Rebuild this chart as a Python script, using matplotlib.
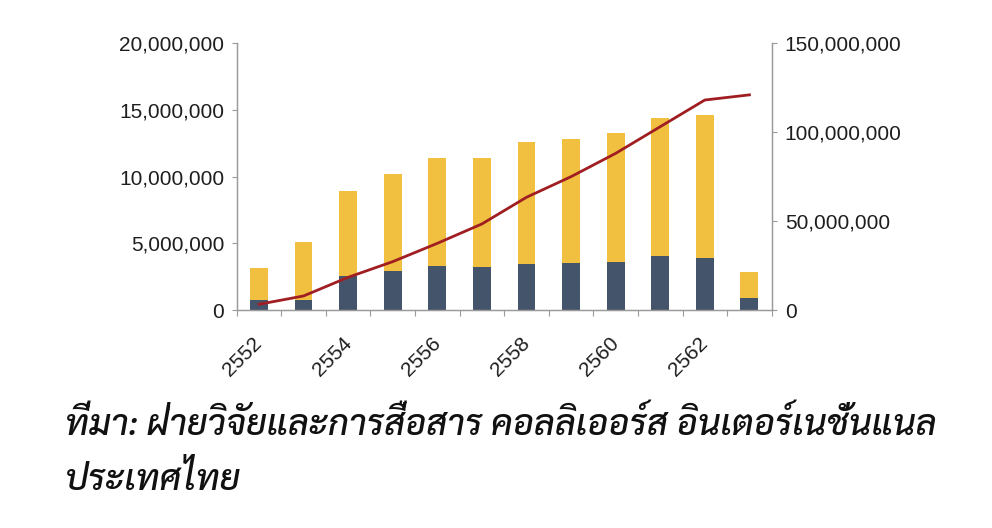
import matplotlib
matplotlib.use("Agg")
import numpy as np
from matplotlib import pyplot as plt
from matplotlib.ticker import FuncFormatter, FixedLocator, NullFormatter

years = ["2552", "2553", "2554", "2555", "2556", "2557", "2558", "2559", "2560", "2561", "2562", "2563"]
# ยอดรวมต่อปี (แกนซ้าย) แยกเป็นส่วนล่าง (สีเข้ม) + ส่วนบน (สีเหลือง)
total = [3130000, 5100000, 8930000, 10230000, 11370000, 11370000, 12600000, 12800000, 13270000, 14400000, 14600000, 2850000]
dark = [750000, 750000, 2550000, 2950000, 3330000, 3200000, 3420000, 3520000, 3600000, 4080000, 3870000, 930000]
# ยอดสะสม (แกนขวา)
cumulative = [3200000, 7900000, 18400000, 27200000, 37500000, 48400000, 63400000, 75000000, 88100000, 103100000, 118100000, 121000000]
caption1 = "ที่มา: ฝ่ายวิจัยและการสื่อสาร คอลลิเออร์ส อินเตอร์เนชั่นแนล"
caption2 = "ประเทศไทย"

yellow = [t - d for t, d in zip(total, dark)]
x = np.arange(len(years))

plt.rcParams['font.family'] = ['Liberation Sans', 'DejaVu Sans']
spine_c = "#9a9a9a"
text_c = "#1e1e1e"

fig = plt.figure(figsize=(9.92, 5.28), dpi=100)
ax = fig.add_axes([236.7 / 992, 1 - 310 / 528, (771.7 - 236.7) / 992, (310 - 43.3) / 528])
ax2 = ax.twinx()

ax.bar(x, dark, width=0.4, color="#44546a", zorder=2)
ax.bar(x, yellow, width=0.4, bottom=dark, color="#f2c040", zorder=2)
ax2.plot(x, cumulative, color="#a01e22", lw=2.0, zorder=3)

ax.set_xlim(-0.5, len(years) - 0.5)
ax.set_ylim(0, 20000000)
ax2.set_ylim(0, 150000000)
ax.set_yticks([0, 5000000, 10000000, 15000000, 20000000])
ax2.set_yticks([0, 50000000, 100000000, 150000000])
fmt = FuncFormatter(lambda v, p: "{:,.0f}".format(v))
ax.yaxis.set_major_formatter(fmt)
ax2.yaxis.set_major_formatter(fmt)

# x: ticks between categories, labels every 2 years
ax.xaxis.set_major_locator(FixedLocator(x[::2]))
ax.set_xticklabels(years[::2])
ax.xaxis.set_minor_locator(FixedLocator(np.arange(-0.5, len(years), 1.0)))
ax.xaxis.set_minor_formatter(NullFormatter())
ax.tick_params(axis="x", which="major", length=0, pad=17, labelsize=15, labelcolor=text_c)
ax.tick_params(axis="x", which="minor", length=4.2, width=0.8, color=spine_c)
for lb in ax.get_xticklabels():
    lb.set_rotation(45)
    lb.set_ha("right")
    lb.set_va("top")
    lb.set_transform(lb.get_transform() + matplotlib.transforms.ScaledTranslation(7 / 100, 0, fig.dpi_scale_trans))

ax.tick_params(axis="y", length=3.6, width=0.8, color=spine_c, pad=5.4, labelsize=15, labelcolor=text_c)
ax2.tick_params(axis="y", length=3.6, width=0.8, color=spine_c, pad=5.8, labelsize=15, labelcolor=text_c)

for a in (ax, ax2):
    a.spines["top"].set_visible(False)
    for s in ("left", "right", "bottom"):
        a.spines[s].set_color(spine_c)
        a.spines[s].set_linewidth(0.9)
ax.set_zorder(1)
ax2.set_zorder(2)
ax2.patch.set_visible(False)

# caption, two lines, first line fitted to the reference width
cap_kw = dict(family=['Sarabun', 'DejaVu Sans'], style="italic", weight="medium",
              color="#111111", va="baseline", ha="left")
cap1 = fig.text(65 / 992, 1 - 435 / 528, caption1, fontsize=22, **cap_kw)
fig.canvas.draw()
size = 22 * 872 / cap1.get_window_extent().width
cap1.set_fontsize(size)
fig.text(65 / 992, 1 - 490 / 528, caption2, fontsize=size, **cap_kw)

fig.savefig("out.png", dpi=100)
